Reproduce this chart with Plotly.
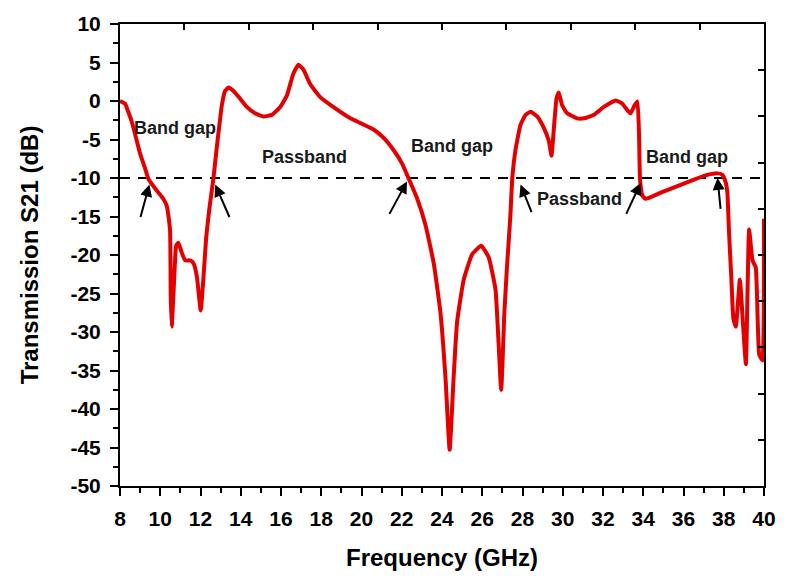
import plotly.graph_objects as go

# Measured transmission S21 versus frequency
freq_ghz = [
    8.0, 8.25, 8.41, 8.58, 8.75, 9.0, 9.24, 9.41, 9.66, 9.91, 10.15, 10.32, 10.4, 10.49,
    10.52, 10.57, 10.69, 10.79, 10.9, 11.07, 11.24, 11.49, 11.66, 11.82, 12.01, 12.14,
    12.28, 12.44, 12.64, 12.81, 12.94, 13.06, 13.22, 13.39, 13.64, 13.97, 14.3, 14.71,
    15.13, 15.55, 15.96, 16.29, 16.62, 16.87, 17.12, 17.45, 17.95, 18.61, 19.45, 19.78,
    20.6, 21.1, 21.6, 22.01, 22.35, 22.77, 23.18, 23.59, 23.92, 24.17, 24.38, 24.58,
    24.75, 25.08, 25.5, 25.95, 26.32, 26.66, 26.94, 27.1, 27.24, 27.4, 27.49, 27.65,
    27.9, 28.15, 28.4, 28.73, 29.06, 29.31, 29.44, 29.56, 29.69, 29.8, 29.97, 30.22,
    30.72, 31.05, 31.55, 32.04, 32.63, 32.96, 33.21, 33.37, 33.57, 33.71, 33.79, 33.84,
    33.96, 34.12, 34.87, 35.7, 36.52, 37.19, 37.69, 37.94, 38.1, 38.18, 38.26, 38.38,
    38.48, 38.6, 38.8, 38.96, 39.1, 39.26, 39.43, 39.59, 39.76, 39.92, 40.0,
]
s21_db = [
    0.0, -0.35, -1.4, -2.66, -4.3, -6.85, -8.7, -10.1, -11.05, -11.9, -12.7, -13.6, -14.8, -16.9,
    -25.3, -29.3, -23.2, -18.8, -18.4, -19.7, -20.7, -20.7, -21.1, -22.8, -27.2, -23.2,
    -17.8, -14.0, -10.1, -6.0, -3.1, -0.55, 1.3, 1.75, 1.3, 0.3, -0.77, -1.6,
    -2.0, -1.8, -0.77, 0.7, 3.6, 4.7, 4.05, 2.2, 0.5, -0.8, -2.25, -2.66,
    -3.7, -4.8, -6.4, -8.1, -10.1, -12.7, -16.1, -21.1, -27.4, -35.8, -45.3, -35.8,
    -28.7, -23.2, -19.9, -18.8, -20.3, -24.5, -37.5, -27.4, -21.1, -14.8, -10.1, -6.4,
    -3.1, -1.8, -1.4, -2.0, -3.5, -5.2, -7.1, -3.5, 0.3, 1.1, -0.55, -1.6,
    -2.25, -2.25, -1.8, -0.77, 0.07, -0.35, -1.2, -1.6, -0.55, -0.05, -4.3, -10.2,
    -12.3, -12.7, -11.9, -11.05, -10.2, -9.6, -9.4, -9.6, -10.6, -11.9, -16.9, -23.2,
    -28.3, -29.3, -23.2, -29.1, -34.2, -16.7, -20.7, -21.6, -32.9, -33.7, -15.3,
]

# -10 dB reference level
threshold_db = -10
freq_range = [8, 40]
db_range = [-50, 10]

# Axis tick values and labels
x_tickvals = list(range(8, 41, 2))
y_tickvals = list(range(-50, 11, 5))
y_ticktext = [str(v) for v in y_tickvals]

# Region labels: (frequency, level, text)
region_labels = [
    (10.74, -3.55, "Band gap"),
    (17.15, -7.3, "Passband"),
    (24.5, -5.8, "Band gap"),
    (30.84, -12.7, "Passband"),
    (36.16, -7.3, "Band gap"),
]

# Arrows pointing at the band edges: (head x, head y, tail x, tail y)
edge_arrows = [
    (9.46, -10.85, 9.0, -15.26),
    (12.73, -10.85, 13.47, -15.26),
    (22.26, -10.44, 21.35, -14.85),
    (27.9, -10.85, 28.48, -14.63),
    (33.87, -10.64, 33.12, -14.85),
    (37.69, -10.0, 37.85, -14.2),
]

FONT = "Liberation Sans, Arial, sans-serif"

fig = go.Figure()

fig.add_trace(go.Scatter(
    x=freq_range, y=[threshold_db, threshold_db], mode="lines",
    line=dict(color="black", width=2, dash="10px,8px"),
    showlegend=False, hoverinfo="skip",
))
fig.add_trace(go.Scatter(
    x=freq_ghz, y=s21_db, mode="lines",
    line=dict(color="#e30000", width=4, shape="spline", smoothing=0.4),
    showlegend=False,
))
# Empty trace that binds the upper/right frame axes so they are drawn
fig.add_trace(go.Scatter(
    x=freq_range, y=db_range, mode="none", xaxis="x2", yaxis="y2",
    showlegend=False, hoverinfo="skip",
))

annotations = []
for x, y, text in region_labels:
    annotations.append(dict(
        x=x, y=y, xref="x", yref="y", text="<b>%s</b>" % text, showarrow=False,
        font=dict(family=FONT, size=18, color="#1a1a1a"),
    ))
for hx, hy, tx, ty in edge_arrows:
    annotations.append(dict(
        x=hx, y=hy, ax=tx, ay=ty, xref="x", yref="y", axref="x", ayref="y",
        text="", showarrow=True, arrowhead=2, arrowsize=1.2, arrowwidth=2,
        arrowcolor="black",
    ))

# Upper and right frame ticks follow a ten-division spacing
top_ticks = [freq_range[0] + k * (freq_range[1] - freq_range[0]) / 10 for k in range(11)]
right_ticks = [db_range[1] - k * (db_range[1] - db_range[0]) / 10 for k in range(11)]

axis_common = dict(
    showgrid=False, zeroline=False, showline=True, linecolor="black", linewidth=2,
    ticks="outside", ticklen=8, tickwidth=2, tickcolor="black",
    tickfont=dict(family=FONT, size=21, color="black", weight="bold"),
)
frame_common = dict(
    showticklabels=False, ticks="inside", ticklen=6, tickwidth=2, tickcolor="black",
    showline=True, linecolor="black", linewidth=2, showgrid=False, zeroline=False,
)

fig.update_layout(
    width=790, height=579,
    margin=dict(l=120, r=26, t=19, b=83),
    paper_bgcolor="white", plot_bgcolor="white",
    xaxis=dict(
        range=freq_range, tickvals=x_tickvals, ticklabelstandoff=5,
        minor=dict(dtick=1, ticks="outside", ticklen=5, tickwidth=2, tickcolor="black"),
        title=dict(text="Frequency (GHz)", standoff=20,
                   font=dict(family=FONT, size=24, color="black", weight="bold")),
        **axis_common,
    ),
    yaxis=dict(
        range=db_range, tickvals=y_tickvals, ticktext=y_ticktext, ticklabelstandoff=5,
        minor=dict(dtick=2.5, ticks="outside", ticklen=5, tickwidth=2, tickcolor="black"),
        title=dict(text="Transmission S21 (dB)", standoff=25,
                   font=dict(family=FONT, size=24, color="black", weight="bold")),
        **axis_common,
    ),
    xaxis2=dict(overlaying="x", side="top", anchor="y2", range=freq_range,
                tickvals=top_ticks, **frame_common),
    yaxis2=dict(overlaying="y", side="right", anchor="x2", range=db_range,
                tickvals=right_ticks, **frame_common),
    annotations=annotations,
)

fig.write_html("out.html")
